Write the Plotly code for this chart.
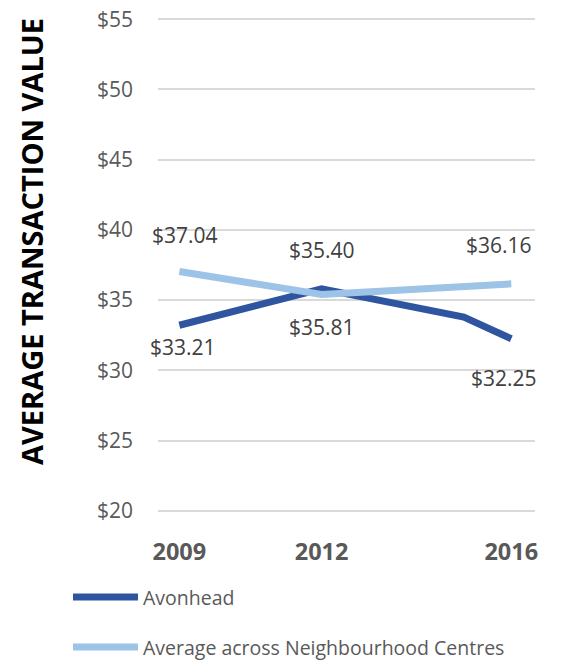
import plotly.graph_objects as go

# ---- data ----
years_avonhead = [2009, 2012, 2015, 2016]
avonhead = [33.21, 35.81, 33.79, 32.25]
avonhead_labels = {2009: "$33.21", 2012: "$35.81", 2016: "$32.25"}

years_avg = [2009, 2012, 2016]
avg_centres = [37.04, 35.40, 36.16]
avg_labels = {2009: "$37.04", 2012: "$35.40", 2016: "$36.16"}

x_ticks = [2009, 2012, 2016]
y_ticks = [20, 25, 30, 35, 40, 45, 50, 55]
y_tick_text = ["$" + str(v) for v in y_ticks]

series_names = ["Avonhead", "Average across Neighbourhood Centres"]
y_title = "AVERAGE TRANSACTION VALUE"

# ---- style ----
DARK = "#2F55A0"
LIGHT = "#9DC3E6"
W, H = 571, 664
ML, MR, MT, MB = 158, 36, 15, 149
PW, PH = W - ML - MR, H - MT - MB
FONT = "Open Sans"


def px_to_paper_x(px):
    return (px - ML) / PW


def px_to_paper_y(py):
    return (H - MB - py) / PH


fig = go.Figure()
fig.add_trace(go.Scatter(x=years_avonhead, y=avonhead, mode="lines",
                         line=dict(color=DARK, width=7), name=series_names[0]))
fig.add_trace(go.Scatter(x=years_avg, y=avg_centres, mode="lines",
                         line=dict(color=LIGHT, width=7), name=series_names[1]))

ann = []
# data labels (offsets are styling only)
dark_off = {2009: (4, -22), 2012: (0, -38), 2016: (-7, -39)}
light_off = {2009: (6, 36), 2012: (0, 44), 2016: (-12, 39)}
LBL_FONT = dict(family=FONT, size=21, color="#404040")
for x, y in zip(years_avonhead, avonhead):
    if x in avonhead_labels:
        dx, dy = dark_off[x]
        ann.append(dict(x=x, y=y, text=avonhead_labels[x], showarrow=False,
                        xanchor="center", yanchor="middle",
                        xshift=dx, yshift=dy, font=LBL_FONT))
for x, y in zip(years_avg, avg_centres):
    dx, dy = light_off[x]
    ann.append(dict(x=x, y=y, text=avg_labels[x], showarrow=False,
                    xanchor="center", yanchor="middle",
                    xshift=dx, yshift=dy, font=LBL_FONT))

# y axis title
ann.append(dict(xref="paper", yref="paper", x=px_to_paper_x(32), y=px_to_paper_y(242),
                xanchor="center", yanchor="middle",
                text="<b>" + y_title + "</b>", textangle=-90, showarrow=False,
                font=dict(family=FONT, size=29, color="#000000")))

# custom legend
shapes = []
for i, (name, col) in enumerate(zip(series_names, [DARK, LIGHT])):
    ly = 597 + 50 * i
    shapes.append(dict(type="line", xref="paper", yref="paper",
                       x0=px_to_paper_x(73), x1=px_to_paper_x(138),
                       y0=px_to_paper_y(ly), y1=px_to_paper_y(ly),
                       line=dict(color=col, width=7)))
    ann.append(dict(xref="paper", yref="paper", x=px_to_paper_x(141), y=px_to_paper_y(ly),
                    xanchor="left", yanchor="middle", text=name, showarrow=False,
                    font=dict(family=FONT, size=19.5, color="#595959")))

fig.update_layout(
    width=W, height=H,
    margin=dict(l=ML, r=MR, t=MT, b=MB, pad=0),
    paper_bgcolor="white", plot_bgcolor="white",
    showlegend=False,
    annotations=ann, shapes=shapes,
    xaxis=dict(range=[2008.55, 2016.5], tickvals=x_ticks,
               ticktext=["<b>%d</b>" % v for v in x_ticks],
               showgrid=False, zeroline=False, showline=False, automargin=False,
               ticks="", ticklabelstandoff=20,
               tickfont=dict(family=FONT, size=23.5, color="#595959")),
    yaxis=dict(range=[19.7, 55.3], tickvals=y_ticks, ticktext=y_tick_text,
               showgrid=True, gridcolor="#D9D9D9", gridwidth=2, automargin=False,
               zeroline=False, showline=False, ticks="", ticklabelstandoff=24,
               tickfont=dict(family=FONT, size=21, color="#595959")),
)

fig.write_html("out.html", config={"displayModeBar": False},
               post_script="document.body.style.margin='0';")
